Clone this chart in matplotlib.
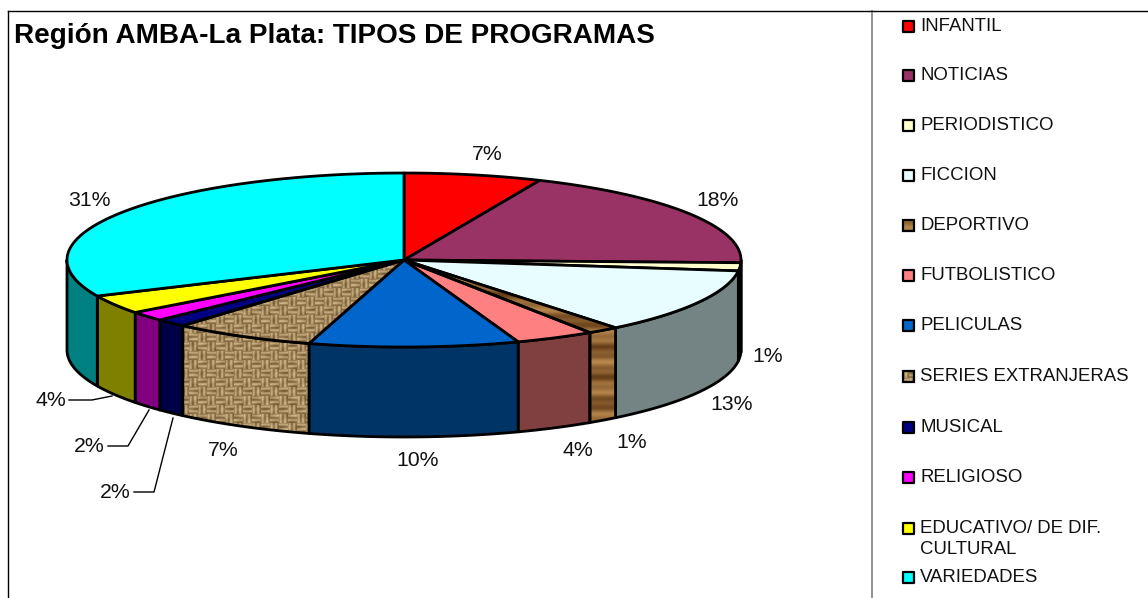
import numpy as np
import matplotlib
matplotlib.use("Agg")
import matplotlib.pyplot as plt
from matplotlib.patches import Polygon, Rectangle

plt.rcParams['font.family'] = ['Liberation Sans', 'DejaVu Sans']

title = "Región AMBA-La Plata: TIPOS DE PROGRAMAS"
categories = ["INFANTIL", "NOTICIAS", "PERIODISTICO", "FICCION", "DEPORTIVO", "FUTBOLISTICO",
              "PELICULAS", "SERIES EXTRANJERAS", "MUSICAL", "RELIGIOSO",
              "EDUCATIVO/ DE DIF.\nCULTURAL", "VARIEDADES"]
shares = [6.6, 18.9, 1.5, 12.2, 1.5, 3.8, 10.05, 6.85, 1.5, 1.8, 3.5, 31.8]
pct_labels = ["7%", "18%", "1%", "13%", "1%", "4%", "10%", "7%", "2%", "2%", "4%", "31%"]
top_colors = ["#FF0000", "#993366", "#FFFFCC", "#E8FDFF", "wood", "#FF8080", "#0066CC", "weave",
              "#000080", "#FF00FF", "#FFFF00", "#00FFFF"]
side_colors = ["#800000", "#000000", "#000000", "#748484", "wood", "#804040", "#003366", "weave",
               "#000046", "#800080", "#808000", "#008080"]
legend_y = [26, 75, 125, 175, 225, 275, 325, 376, 427, 477, 528, 577]
label_xy = [(487, 154), (718, 200), (768, 356), (732, 404), (632, 443), (578, 451),
            (418, 460), (223, 451), (115, 493), (89, 447), (51, 400), (89, 200)]
leaders = [[(69, 400), (92, 400), (112, 396)],
           [(108, 446), (128, 446), (149, 410)],
           [(134, 492), (154, 492), (173, 418)]]

CX, CY, RX, RY, DEPTH = 404, 260, 337, 87, 90
W, H = 1148, 598

fig = plt.figure(figsize=(W / 100, H / 100), dpi=100)
ax = fig.add_axes([0, 0, 1, 1])
ax.axis("off")


def arc(f0, f1, dy=0):
    n = max(2, int((f1 - f0) * 600))
    t = 2 * np.pi * np.linspace(f0, f1, n)
    return np.column_stack([CX + RX * np.sin(t), CY + dy - RY * np.cos(t)])


def texture(kind, x0, x1, y0, y1):
    xs, ys = np.meshgrid(np.arange(x0, x1), np.arange(y0, y1))
    if kind == "weave":
        cell = ((xs // 9) + (ys // 9)) % 2
        thread = np.where(cell == 0,
                          np.sin(ys * 2 * np.pi / 4.5),
                          np.sin(xs * 2 * np.pi / 4.5))
        v = 0.52 + 0.22 * thread + 0.12 * np.sin(xs * 0.37 + ys * 0.21) * np.cos(ys * 0.53)
        lo, hi = np.array([0.36, 0.26, 0.12]), np.array([0.90, 0.79, 0.60])
    else:
        v = 0.55 + 0.28 * np.sin(ys * 0.23) + 0.17 * np.sin(ys * 0.61 + 1)
        lo, hi = np.array([0.36, 0.21, 0.07]), np.array([0.72, 0.53, 0.30])
    v = np.clip(v, 0, 1)[..., None]
    return lo + (hi - lo) * v


def fill(pts, color, lw=2.0, edge="black", z=2):
    pts = np.asarray(pts)
    if color in ("wood", "weave"):
        p = Polygon(pts, closed=True, facecolor="none", edgecolor=edge, lw=lw, zorder=z + 0.1)
        ax.add_patch(p)
        clip = Polygon(pts, closed=True, transform=ax.transData)
        x0, x1 = int(pts[:, 0].min()) - 1, int(pts[:, 0].max()) + 2
        y0, y1 = int(pts[:, 1].min()) - 1, int(pts[:, 1].max()) + 2
        im = ax.imshow(texture(color, x0, x1, y0, y1), extent=(x0, x1, y1, y0),
                       aspect="auto", interpolation="bilinear", zorder=z)
        im.set_clip_path(clip)
    else:
        ax.add_patch(Polygon(pts, closed=True, facecolor=color, edgecolor=edge, lw=lw,
                             joinstyle="round", zorder=z))


edges = np.concatenate([[0], np.cumsum(shares)]) / np.sum(shares)

# side walls (only the front half of the rim is visible)
for f0, f1, c in zip(edges[:-1], edges[1:], side_colors):
    a, b = max(f0, 0.25), min(f1, 0.75)
    if b > a:
        top = arc(a, b)
        bottom = arc(a, b, DEPTH)[::-1]
        fill(np.vstack([top, bottom]), c, z=2)

# top face
for f0, f1, c in zip(edges[:-1], edges[1:], top_colors):
    fill(np.vstack([[(CX, CY)], arc(f0, f1)]), c, z=3)

# percent labels
for (x, y), s in zip(label_xy, pct_labels):
    ax.text(x, y, s, ha="center", va="center", fontsize=15.3, color="#111111", zorder=5)
for seg in leaders:
    xs, ys = zip(*seg)
    ax.plot(xs, ys, color="black", lw=1, zorder=4)

# title
ax.text(14, 36, title, ha="left", va="center", fontsize=20.1, fontweight="bold", color="black")

# legend
for name, y, c in zip(categories, legend_y, top_colors):
    box = [(903, y - 5.5), (914, y - 5.5), (914, y + 5.5), (903, y + 5.5)]
    fill(box, c, lw=1.6, z=3)
    lines = name.split("\n")
    ax.text(920, y + 0.5, lines[0], ha="left", va="center", fontsize=13.45, color="#111111")
    if len(lines) > 1:
        ax.text(920, y + 21, lines[1], ha="left", va="center", fontsize=13.45, color="#111111")

# frame
ax.plot([8, W], [10.5, 10.5], color="black", lw=1, zorder=6)
ax.plot([8, 8], [10.5, H], color="black", lw=1, zorder=6)
ax.plot([872, 872], [11, H], color="#808080", lw=1.2, zorder=5)

ax.set_xlim(0, W)
ax.set_ylim(H, 0)
fig.savefig("out.png", dpi=100, facecolor="white")
